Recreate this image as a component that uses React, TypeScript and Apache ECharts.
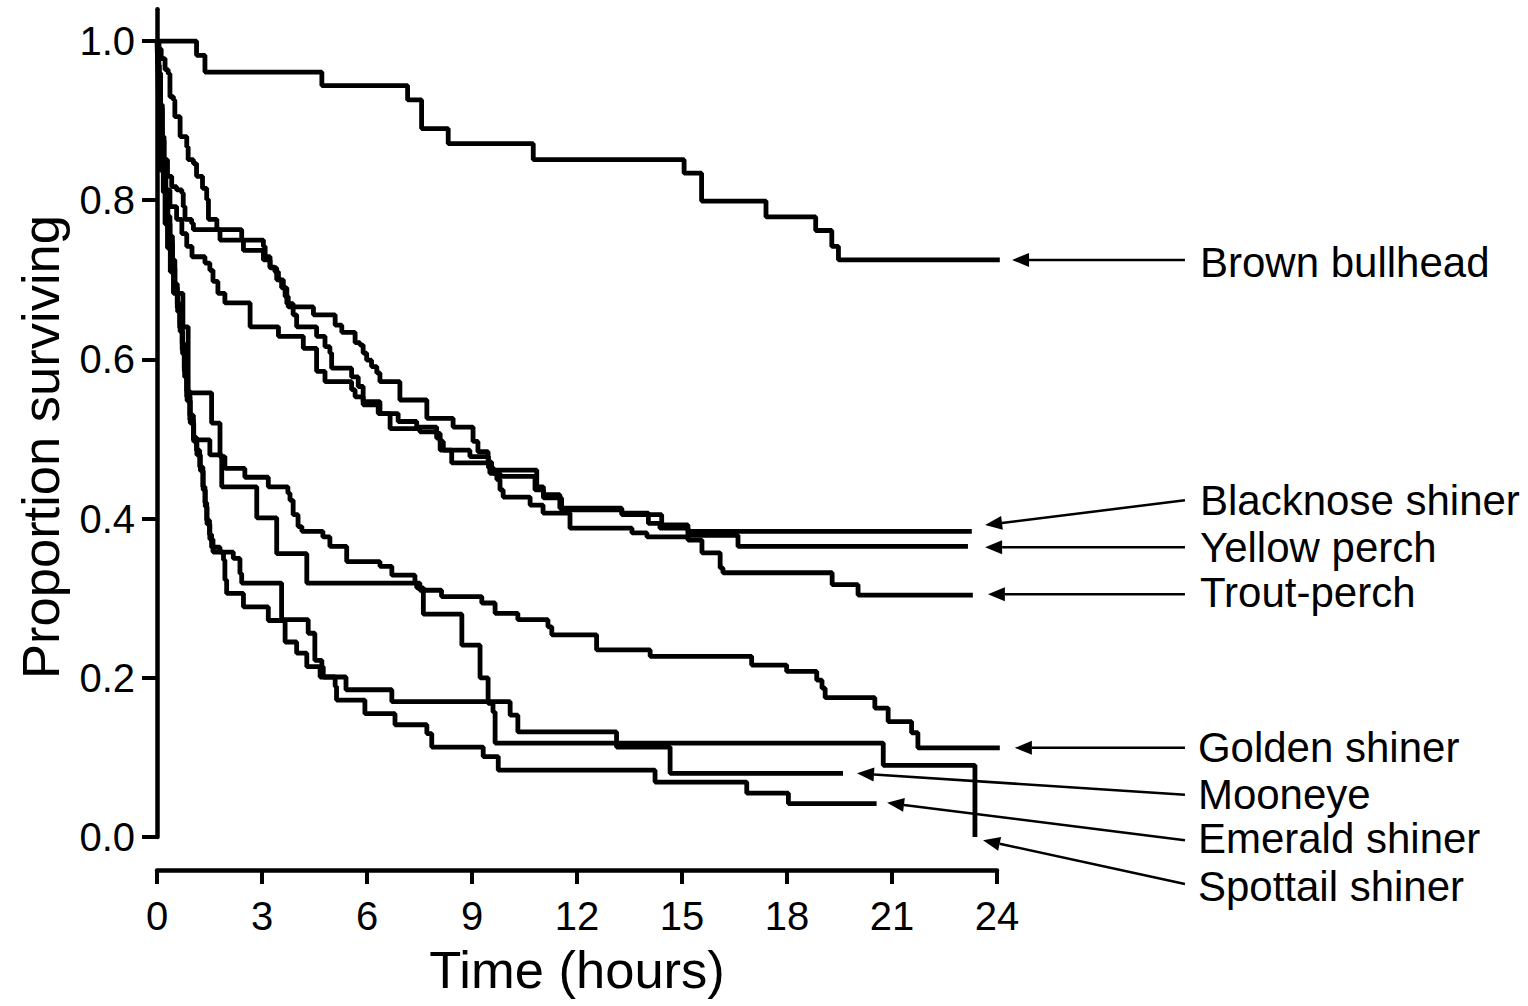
import React, { useEffect, useRef } from 'react';
import * as echarts from 'echarts';

const FONT = '"Liberation Sans", Arial, Helvetica, sans-serif';

const xTicks = [0, 3, 6, 9, 12, 15, 18, 21, 24];
const yTicks = [0, 0.2, 0.4, 0.6, 0.8, 1.0];

// [time (hours), proportion surviving] — survival after the event at that time
const brownBullhead: [number, number][] = [
  [0, 1.0], [1.13, 0.982], [1.37, 0.961], [4.71, 0.944], [7.16, 0.926], [7.56, 0.89], [8.32, 0.871],
  [10.75, 0.851], [15.06, 0.834], [15.56, 0.799], [17.4, 0.779], [18.82, 0.762], [19.28, 0.742],
  [19.47, 0.725], [24.08, 0.725],
];

const blacknoseShiner: [number, number][] = [
  [0, 1], [0.03, 0.97], [0.06, 0.94], [0.09, 0.91], [0.12, 0.88], [0.18, 0.851], [0.3, 0.83], [0.42, 0.817],
  [0.56, 0.813], [0.71, 0.809], [0.75, 0.792], [0.8, 0.776], [0.99, 0.771], [1.04, 0.763], [2.42, 0.75],
  [3.04, 0.742], [3.09, 0.729], [3.23, 0.716], [3.37, 0.71], [3.47, 0.7], [3.61, 0.691], [3.66, 0.679],
  [3.75, 0.666], [4.47, 0.656], [5.09, 0.643], [5.28, 0.634], [5.66, 0.621], [5.8, 0.618], [5.89, 0.608],
  [5.99, 0.599], [6.13, 0.591], [6.28, 0.583], [6.37, 0.572], [6.94, 0.549], [7.71, 0.526], [8.46, 0.515],
  [9.03, 0.497], [9.17, 0.484], [9.46, 0.471], [9.56, 0.461], [10.85, 0.44], [11.04, 0.43], [11.51, 0.413],
  [13.28, 0.407], [14.04, 0.394], [14.37, 0.388], [15.17, 0.384], [23.28, 0.384],
];

const yellowPerch: [number, number][] = [
  [0, 1], [0.05, 0.99], [0.12, 0.978], [0.23, 0.964], [0.32, 0.959], [0.37, 0.93], [0.47, 0.926], [0.51, 0.905],
  [0.66, 0.88], [0.85, 0.867], [0.89, 0.851], [1.04, 0.846], [1.13, 0.83], [1.3, 0.815], [1.42, 0.801],
  [1.47, 0.776], [1.71, 0.763], [1.8, 0.75], [2.47, 0.737], [3.04, 0.725], [3.23, 0.715], [3.42, 0.7],
  [3.56, 0.69], [3.71, 0.67], [3.89, 0.656], [3.99, 0.641], [4.56, 0.629], [4.8, 0.616], [4.94, 0.608],
  [4.99, 0.589], [5.56, 0.578], [5.75, 0.566], [5.89, 0.547], [6.37, 0.532], [6.89, 0.522], [7.42, 0.515],
  [7.99, 0.501], [8.09, 0.497], [8.18, 0.486], [8.94, 0.478], [9.47, 0.464], [9.61, 0.457], [9.8, 0.453],
  [10.8, 0.436], [11.04, 0.426], [11.56, 0.411], [13.28, 0.405], [14.42, 0.392], [15.17, 0.379],
  [16.6, 0.365], [23.17, 0.365],
];

const troutPerch: [number, number][] = [
  [0, 1], [0.02, 0.97], [0.04, 0.93], [0.06, 0.89], [0.09, 0.838], [0.23, 0.813], [0.37, 0.792], [0.56, 0.776],
  [0.71, 0.758], [0.85, 0.742], [1.0, 0.729], [1.37, 0.721], [1.51, 0.712], [1.6, 0.698], [1.74, 0.683],
  [1.94, 0.671], [2.66, 0.641], [3.47, 0.629], [4.18, 0.614], [4.56, 0.585], [4.8, 0.572], [5.56, 0.562],
  [5.66, 0.553], [5.89, 0.543], [6.32, 0.532], [6.66, 0.513], [7.51, 0.509], [7.99, 0.507], [8.09, 0.486],
  [8.42, 0.47], [9.51, 0.457], [9.71, 0.449], [9.8, 0.436], [9.89, 0.427], [10.66, 0.417], [11.03, 0.407],
  [11.8, 0.388], [13.57, 0.382], [14.0, 0.377], [15.17, 0.373], [15.57, 0.357], [16.09, 0.338],
  [16.17, 0.332], [19.29, 0.317], [20.03, 0.304], [23.31, 0.304],
];

const goldenShiner: [number, number][] = [
  [0, 1], [0.03, 0.97], [0.06, 0.93], [0.1, 0.89], [0.14, 0.85], [0.18, 0.81], [0.23, 0.77], [0.3, 0.74],
  [0.38, 0.71], [0.47, 0.683], [0.74, 0.641], [0.89, 0.558], [1.56, 0.52], [1.8, 0.478], [1.94, 0.463],
  [2.51, 0.452], [3.18, 0.44], [3.74, 0.432], [3.8, 0.423], [3.89, 0.405], [4.03, 0.39], [4.14, 0.384],
  [4.74, 0.377], [4.94, 0.365], [5.42, 0.346], [6.37, 0.34], [6.71, 0.329], [7.37, 0.319], [7.51, 0.31],
  [8.13, 0.302], [9.28, 0.294], [9.66, 0.281], [10.31, 0.273], [11.17, 0.264], [11.28, 0.254],
  [12.56, 0.235], [14.09, 0.227], [16.99, 0.216], [17.99, 0.208], [18.85, 0.197], [19.0, 0.187],
  [19.09, 0.175], [20.51, 0.162], [20.89, 0.145], [21.56, 0.131], [21.74, 0.112], [24.08, 0.112],
];

const mooneye: [number, number][] = [
  [0, 1], [0.05, 0.96], [0.1, 0.92], [0.15, 0.88], [0.2, 0.845], [0.25, 0.81], [0.3, 0.78], [0.37, 0.755],
  [0.44, 0.725], [0.51, 0.695], [0.58, 0.67], [0.66, 0.645], [0.72, 0.62], [0.78, 0.59], [0.85, 0.56],
  [0.94, 0.53], [1.04, 0.499], [1.51, 0.48], [1.85, 0.44], [2.85, 0.401], [3.42, 0.356], [4.28, 0.319],
  [7.42, 0.313], [7.61, 0.28], [8.71, 0.241], [9.23, 0.2], [9.46, 0.168], [9.6, 0.157], [9.66, 0.118],
  [13.13, 0.113], [14.66, 0.08], [19.6, 0.08],
];

const emeraldShiner: [number, number][] = [
  [0, 1], [0.04, 0.96], [0.09, 0.92], [0.14, 0.88], [0.19, 0.84], [0.24, 0.805], [0.3, 0.775], [0.36, 0.75],
  [0.43, 0.72], [0.5, 0.69], [0.58, 0.665], [0.65, 0.64], [0.72, 0.612], [0.78, 0.585], [0.85, 0.553],
  [0.94, 0.524], [1.04, 0.502], [1.13, 0.486], [1.22, 0.465], [1.31, 0.44], [1.37, 0.42], [1.42, 0.398],
  [1.5, 0.38], [1.56, 0.364], [1.8, 0.358], [1.9, 0.348], [1.94, 0.323], [1.99, 0.306], [2.47, 0.289],
  [3.18, 0.272], [3.66, 0.245], [3.99, 0.231], [4.28, 0.214], [4.66, 0.201], [5.09, 0.189], [5.13, 0.172],
  [5.94, 0.155], [6.8, 0.141], [7.71, 0.13], [7.85, 0.113], [9.32, 0.101], [9.75, 0.084], [14.23, 0.069],
  [16.85, 0.055], [18.04, 0.042], [20.56, 0.042],
];

const spottailShiner: [number, number][] = [
  [0, 1], [0.05, 0.955], [0.1, 0.915], [0.15, 0.875], [0.2, 0.835], [0.25, 0.8], [0.31, 0.77], [0.37, 0.745],
  [0.44, 0.715], [0.51, 0.685], [0.59, 0.66], [0.66, 0.635], [0.73, 0.607], [0.79, 0.578], [0.86, 0.548],
  [0.95, 0.52], [1.05, 0.497], [1.14, 0.48], [1.24, 0.46], [1.32, 0.436], [1.38, 0.415], [1.43, 0.393],
  [1.51, 0.374], [1.6, 0.358], [2.18, 0.35], [2.37, 0.331], [2.42, 0.319], [3.56, 0.273], [4.32, 0.256],
  [4.51, 0.222], [4.71, 0.214], [4.75, 0.201], [5.4, 0.185], [6.71, 0.17], [10.09, 0.153], [10.31, 0.132],
  [13.13, 0.118], [20.75, 0.09], [23.37, 0],
];

const seriesNames = [
  'Brown bullhead', 'Blacknose shiner', 'Yellow perch', 'Trout-perch',
  'Golden shiner', 'Mooneye', 'Emerald shiner', 'Spottail shiner',
];
const seriesData = [
  brownBullhead, blacknoseShiner, yellowPerch, troutPerch,
  goldenShiner, mooneye, emeraldShiner, spottailShiner,
];

// annotation placement, in data units (hours, proportion)
const labelAnchors: [number, number][] = [
  [29.8, 0.722], [29.8, 0.423], [29.8, 0.364], [29.8, 0.307],
  [29.74, 0.113], [29.74, 0.054], [29.74, -0.0025], [29.74, -0.0616],
];
const arrowTails: [number, number][] = [
  [29.37, 0.725], [29.37, 0.423], [29.37, 0.364], [29.37, 0.305],
  [29.37, 0.112], [29.37, 0.053], [29.37, -0.004], [29.37, -0.059],
];
const arrowTips: [number, number][] = [
  [24.43, 0.725], [23.66, 0.392], [23.66, 0.364], [23.74, 0.305],
  [24.51, 0.112], [20.0, 0.08], [20.86, 0.043], [23.6, -0.004],
];
const yAxisNameCenter = 0.49; // proportion at which the y-axis title is centred

export default function App() {
  const ref = useRef<HTMLDivElement>(null);

  useEffect(() => {
    document.body.style.margin = '0';
    if (!ref.current) return;
    const chart = echarts.init(ref.current, null, { renderer: 'svg' });

    const option: any = {
      animation: false,
      backgroundColor: '#ffffff',
      grid: { left: 157, right: 531, top: 9.2, bottom: 169, containLabel: false },
      xAxis: {
        type: 'value',
        min: 0,
        max: 24,
        interval: 3,
        offset: 33,
        axisLine: { show: true, onZero: false, lineStyle: { color: '#000', width: 4.5 } },
        axisTick: { show: true, length: 14, lineStyle: { color: '#000', width: 4 } },
        axisLabel: {
          color: '#000', fontSize: 40, fontFamily: FONT, margin: 26,
          customValues: xTicks,
        },
        splitLine: { show: false },
        name: 'Time (hours)',
        nameLocation: 'middle',
        nameGap: 73,
        nameTextStyle: { color: '#000', fontSize: 52.5, fontFamily: FONT },
      },
      yAxis: {
        type: 'value',
        min: 0,
        max: 1.04,
        axisLine: { show: true, onZero: false, lineStyle: { color: '#000', width: 4.5 } },
        axisTick: { show: true, length: 15, lineStyle: { color: '#000', width: 4 }, customValues: yTicks },
        axisLabel: {
          color: '#000', fontSize: 40, fontFamily: FONT, margin: 22,
          customValues: yTicks,
          formatter: (v: number) => v.toFixed(1),
        },
        splitLine: { show: false },
      },
      series: seriesData.map((d, i) => ({
        name: seriesNames[i],
        type: 'line',
        step: 'end',
        data: d,
        showSymbol: false,
        clip: false,
        lineStyle: { color: '#000', width: 4.8 },
        silent: true,
      })),
    };
    chart.setOption(option);

    const graphics: any[] = [];
    const L = 17;
    const W = 7;
    seriesNames.forEach((name, i) => {
      const a = chart.convertToPixel({ gridIndex: 0 }, labelAnchors[i]) as number[];
      const tail = chart.convertToPixel({ gridIndex: 0 }, arrowTails[i]) as number[];
      const tip = chart.convertToPixel({ gridIndex: 0 }, arrowTips[i]) as number[];
      const dx = tail[0] - tip[0];
      const dy = tail[1] - tip[1];
      const len = Math.sqrt(dx * dx + dy * dy);
      const ux = dx / len;
      const uy = dy / len;
      const bx = tip[0] + ux * L;
      const by = tip[1] + uy * L;
      const nx = -uy;
      const ny = ux;
      graphics.push({
        type: 'line',
        shape: { x1: tail[0], y1: tail[1], x2: bx, y2: by },
        style: { stroke: '#000', lineWidth: 2.5 },
        silent: true,
      });
      graphics.push({
        type: 'polygon',
        shape: { points: [[tip[0], tip[1]], [bx + nx * W, by + ny * W], [bx - nx * W, by - ny * W]] },
        style: { fill: '#000' },
        silent: true,
      });
      graphics.push({
        type: 'text',
        x: a[0],
        y: a[1],
        style: {
          text: name, fill: '#000', fontSize: 42, fontFamily: FONT,
          textAlign: 'left', textVerticalAlign: 'middle',
        },
        silent: true,
      });
    });

    const yc = chart.convertToPixel({ gridIndex: 0 }, [0, yAxisNameCenter]) as number[];
    graphics.push({
      type: 'text',
      x: yc[0] - 117,
      y: yc[1],
      rotation: Math.PI / 2,
      style: {
        text: 'Proportion surviving', fill: '#000', fontSize: 52.5, fontFamily: FONT,
        textAlign: 'center', textVerticalAlign: 'middle',
      },
      silent: true,
    });
    chart.setOption({ graphic: graphics });

    return () => chart.dispose();
  }, []);

  return <div ref={ref} style={{ width: 1528, height: 1006 }} />;
}
